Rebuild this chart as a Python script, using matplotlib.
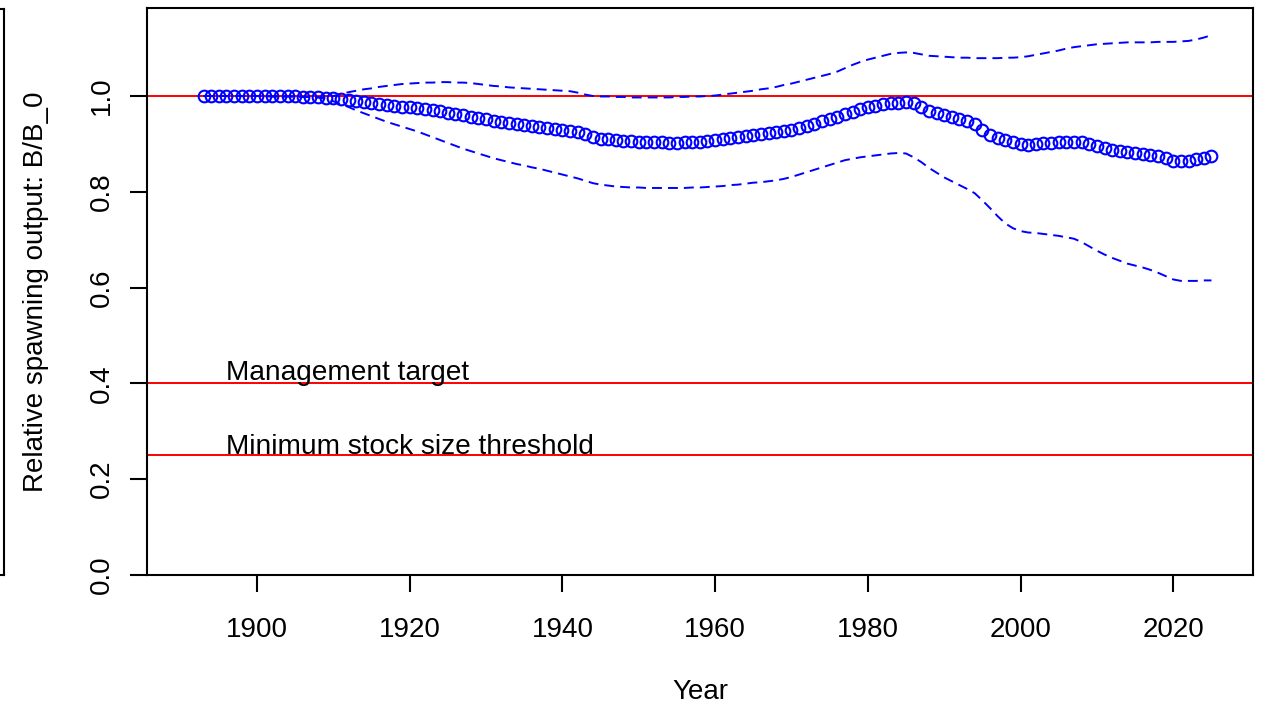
import numpy as np
import matplotlib
matplotlib.use("Agg")
import matplotlib.pyplot as plt
from matplotlib.lines import Line2D

# =============================================================================
# * Data
# =============================================================================

FIRST_YEAR = 1893
LAST_YEAR = 2025

# relative spawning output B/B_0, one value per year 1893..2025
spawn_rel = [
    1.000, 1.000, 1.000, 1.000, 1.000, 1.000, 1.000, 1.000, 1.000, 0.999,  # 1893-1902
    0.999, 0.999, 0.999, 0.998, 0.998, 0.997, 0.996, 0.995, 0.993, 0.991,  # 1903-1912
    0.990, 0.988, 0.986, 0.984, 0.982, 0.980, 0.978, 0.976, 0.974, 0.972,  # 1913-1922
    0.970, 0.968, 0.965, 0.962, 0.960, 0.957, 0.954, 0.951, 0.948, 0.946,  # 1923-1932
    0.943, 0.941, 0.939, 0.937, 0.935, 0.933, 0.931, 0.929, 0.927, 0.924,  # 1933-1942
    0.920, 0.914, 0.911, 0.910, 0.908, 0.907, 0.906, 0.905, 0.904, 0.903,  # 1943-1952
    0.903, 0.902, 0.902, 0.903, 0.904, 0.905, 0.906, 0.908, 0.910, 0.912,  # 1953-1962
    0.914, 0.916, 0.918, 0.920, 0.922, 0.924, 0.926, 0.929, 0.934, 0.938,  # 1963-1972
    0.942, 0.947, 0.951, 0.956, 0.962, 0.967, 0.972, 0.977, 0.980, 0.983,  # 1973-1982
    0.985, 0.986, 0.987, 0.985, 0.976, 0.968, 0.964, 0.960, 0.956, 0.952,  # 1983-1992
    0.947, 0.942, 0.930, 0.919, 0.913, 0.908, 0.903, 0.899, 0.898, 0.900,  # 1993-2002
    0.901, 0.902, 0.903, 0.904, 0.905, 0.903, 0.900, 0.895, 0.891, 0.888,  # 2003-2012
    0.885, 0.883, 0.881, 0.879, 0.877, 0.874, 0.870, 0.865, 0.864, 0.865,  # 2013-2022
    0.868, 0.871, 0.874,                                                   # 2023-2025
]

# upper interval (dashed)
spawn_upper = [
    1.000, 1.000, 1.000, 1.000, 1.000, 1.000, 1.000, 1.000, 1.000, 0.999,  # 1893-1902
    0.999, 0.999, 0.999, 0.998, 0.998, 0.997, 0.998, 1.000, 1.004, 1.008,  # 1903-1912
    1.011, 1.014, 1.016, 1.019, 1.021, 1.023, 1.025, 1.026, 1.027, 1.028,  # 1913-1922
    1.028, 1.029, 1.029, 1.028, 1.028, 1.027, 1.025, 1.023, 1.021, 1.020,  # 1923-1932
    1.018, 1.017, 1.016, 1.015, 1.014, 1.013, 1.012, 1.011, 1.010, 1.007,  # 1933-1942
    1.003, 1.000, 0.999, 0.999, 0.998, 0.998, 0.997, 0.997, 0.997, 0.997,  # 1943-1952
    0.997, 0.997, 0.998, 0.998, 0.999, 0.999, 1.000, 1.001, 1.003, 1.005,  # 1953-1962
    1.007, 1.009, 1.011, 1.014, 1.016, 1.019, 1.023, 1.026, 1.030, 1.034,  # 1963-1972
    1.038, 1.042, 1.046, 1.051, 1.058, 1.065, 1.071, 1.076, 1.080, 1.084,  # 1973-1982
    1.088, 1.090, 1.091, 1.090, 1.087, 1.084, 1.083, 1.082, 1.081, 1.080,  # 1983-1992
    1.080, 1.079, 1.079, 1.079, 1.079, 1.080, 1.080, 1.081, 1.083, 1.086,  # 1993-2002
    1.089, 1.092, 1.095, 1.099, 1.102, 1.104, 1.106, 1.108, 1.109, 1.110,  # 2003-2012
    1.111, 1.112, 1.112, 1.112, 1.112, 1.113, 1.113, 1.113, 1.114, 1.115,  # 2013-2022
    1.118, 1.122, 1.127,                                                   # 2023-2025
]

# lower interval (dashed)
spawn_lower = [
    1.000, 1.000, 1.000, 1.000, 1.000, 1.000, 1.000, 1.000, 1.000, 0.999,  # 1893-1902
    0.999, 0.999, 0.999, 0.998, 0.998, 0.997, 0.994, 0.989, 0.983, 0.977,  # 1903-1912
    0.970, 0.964, 0.958, 0.952, 0.946, 0.941, 0.936, 0.931, 0.926, 0.920,  # 1913-1922
    0.914, 0.908, 0.902, 0.896, 0.890, 0.885, 0.880, 0.875, 0.870, 0.866,  # 1923-1932
    0.862, 0.858, 0.855, 0.851, 0.848, 0.844, 0.840, 0.836, 0.832, 0.828,  # 1933-1942
    0.823, 0.818, 0.815, 0.813, 0.811, 0.810, 0.809, 0.809, 0.808, 0.808,  # 1943-1952
    0.808, 0.808, 0.808, 0.808, 0.809, 0.809, 0.810, 0.811, 0.812, 0.814,  # 1953-1962
    0.815, 0.817, 0.819, 0.820, 0.822, 0.824, 0.827, 0.831, 0.836, 0.841,  # 1963-1972
    0.846, 0.851, 0.856, 0.861, 0.866, 0.869, 0.872, 0.874, 0.876, 0.878,  # 1973-1982
    0.880, 0.881, 0.880, 0.872, 0.862, 0.850, 0.840, 0.830, 0.822, 0.814,  # 1983-1992
    0.806, 0.797, 0.782, 0.766, 0.749, 0.734, 0.724, 0.718, 0.715, 0.714,  # 1993-2002
    0.712, 0.710, 0.708, 0.705, 0.702, 0.695, 0.686, 0.677, 0.669, 0.662,  # 2003-2012
    0.656, 0.650, 0.646, 0.642, 0.637, 0.631, 0.624, 0.617, 0.614, 0.614,  # 2013-2022
    0.614, 0.615, 0.615,                                                   # 2023-2025
]

ref_levels = [1.0, 0.4, 0.25]
ref_labels = ["Management target", "Minimum stock size threshold"]
ref_label_y = [0.408, 0.252]

x_ticks = [1900, 1920, 1940, 1960, 1980, 2000, 2020]
y_ticks = [0.0, 0.2, 0.4, 0.6, 0.8, 1.0]

years = np.arange(FIRST_YEAR, LAST_YEAR + 1)
assert len(years) == len(spawn_rel) == len(spawn_upper) == len(spawn_lower)

# =============================================================================
# * Plot
# =============================================================================

plt.rcParams["font.family"] = ["Liberation Sans", "DejaVu Sans"]

W, H = 1265, 708
fig = plt.figure(figsize=(W / 100, H / 100), dpi=100)
left, right, top, bottom = 147, 1252.7, 8, 575
ax = fig.add_axes([left / W, 1 - bottom / H, (right - left) / W, (bottom - top) / H])

for lev in ref_levels:
    ax.axhline(lev, color="red", lw=1.4, zorder=1)

ax.plot(years, spawn_rel, linestyle="none", marker="o", ms=8.4, mfc="none",
        mec="blue", mew=1.5, zorder=3)
ax.plot(years, spawn_upper, color="blue", lw=1.4, dashes=(5.1, 3.1), zorder=2)
ax.plot(years, spawn_lower, color="blue", lw=1.4, dashes=(5.1, 3.1), zorder=2)

for lab, ly in zip(ref_labels, ref_label_y):
    ax.text(1896, ly, lab, fontsize=20.2, ha="left", va="baseline")

ax.set_xlim(1885.6, 2030.4)
ax.set_ylim(0, (bottom - top) / 479)

ax.set_xticks(x_ticks)
ax.set_yticks(y_ticks)
ax.set_yticklabels(["%.1f" % v for v in y_ticks], rotation=90, va="center")
ax.tick_params(axis="both", length=12, width=1.5, labelsize=20, color="black")
ax.tick_params(axis="x", pad=18)
ax.tick_params(axis="y", pad=11)
for sp in ax.spines.values():
    sp.set_linewidth(1.5)

ax.set_xlabel("Year", fontsize=20)
ax.xaxis.set_label_coords(0.5, (bottom - 692) / (bottom - top))
ax.xaxis.label.set_va("center")
ax.set_ylabel("Relative spawning output: B/B_0", fontsize=20)
ax.yaxis.set_label_coords((36 - left) / (right - left), 0.5)
ax.yaxis.label.set_va("center")

# edge of the neighbouring panel, cut off at the left of the image
fig.add_artist(Line2D([4 / W, 4 / W], [1 - 9 / H, 1 - 575 / H], color="black", lw=1.5))
fig.add_artist(Line2D([0, 4 / W], [1 - 9 / H, 1 - 9 / H], color="black", lw=1.5))
fig.add_artist(Line2D([0, 4 / W], [1 - 575 / H, 1 - 575 / H], color="black", lw=1.5))

fig.savefig("out.png", dpi=100)
